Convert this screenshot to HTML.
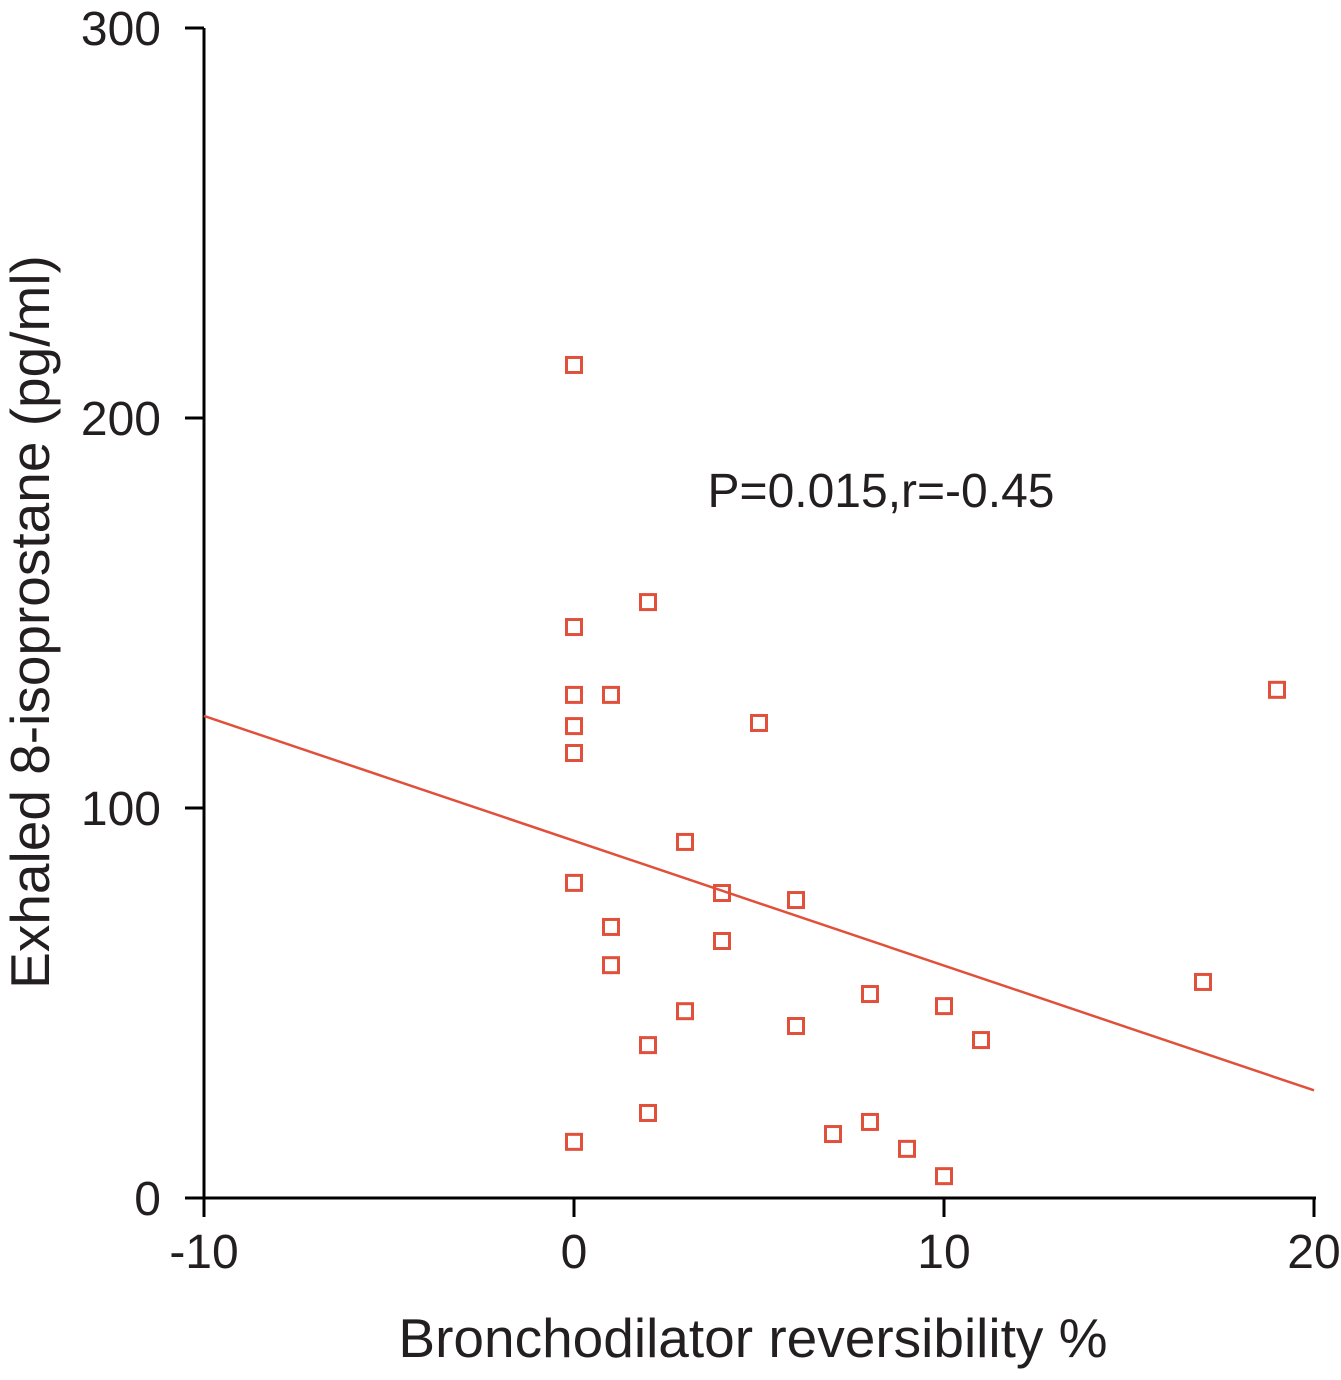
<!DOCTYPE html>
<html><head><meta charset="utf-8"><style>
body{margin:0;background:#fff;}
svg{display:block;font-family:"Liberation Sans",Arial,sans-serif;}
</style></head><body>
<svg id="chart" width="1341" height="1380" viewBox="0 0 1341 1380">
<g id="axes"></g><g id="marks"></g>
<text x="881" y="507" font-size="48" text-anchor="middle" fill="#231f20">P=0.015,r=-0.45</text>
<text x="753" y="1357" font-size="55" text-anchor="middle" fill="#231f20">Bronchodilator reversibility %</text>
<text transform="translate(49,622) rotate(-90)" font-size="55" text-anchor="middle" fill="#231f20">Exhaled 8-isoprostane (pg/ml)</text>
</svg>
<script>
const xTicks=[-10,0,10,20];
const yTicks=[0,100,200,300];
const xVals=[0,0,2,0,1,0,5,0,19,3,0,4,6,1,4,1,8,17,10,3,6,11,2,2,0,7,8,9,10];
const yVals=[213.6,146.4,152.8,129,129,121,121.8,114.1,130.3,91.3,80.8,78.2,76.4,69.5,65.9,59.7,52.3,55.4,49.2,47.9,44.1,40.5,39.2,21.8,14.4,16.4,19.5,12.6,5.6];
const fitLine=[91.6,-3.2]; // intercept, slope
const NS="http://www.w3.org/2000/svg";
const X=v=>204+(v+10)*37;
const Y=v=>1198-v*3.9;
const axes=document.getElementById('axes'),marks=document.getElementById('marks');
function mk(tag,attrs,parent){const e=document.createElementNS(NS,tag);for(const k in attrs)e.setAttribute(k,attrs[k]);parent.appendChild(e);return e;}
let a=mk('line',{x1:204,y1:28,x2:204,y2:1199,stroke:'#000','stroke-width':3},axes);


a=mk('line',{x1:203,y1:1198,x2:1316,y2:1198,stroke:'#000','stroke-width':3},axes);


xTicks.forEach(t=>{
 let l=mk('line',{x1:X(t),y1:1198,x2:X(t),y2:1217,stroke:'#000','stroke-width':3},axes);
 
 
 let tx=mk('text',{x:X(t),y:1268,'font-size':48,'text-anchor':'middle',fill:'#231f20'},axes);
 tx.textContent=t;
 
 
});
yTicks.forEach(t=>{
 let l=mk('line',{x1:185,y1:Y(t),x2:204,y2:Y(t),stroke:'#000','stroke-width':3},axes);
 
 
 let tx=mk('text',{x:161,y:Y(t)+17,'font-size':48,'text-anchor':'end',fill:'#231f20'},axes);
 tx.textContent=t;
 
 
});
let fl=mk('line',{x1:X(-10),y1:Y(fitLine[0]+fitLine[1]*-10),x2:X(20),y2:Y(fitLine[0]+fitLine[1]*20),stroke:'#e0503a','stroke-width':2.5},marks);


xVals.forEach((v,i)=>{
 let r=mk('rect',{x:X(v)-7.5,y:Y(yVals[i])-7.5,width:15,height:15,fill:'none',stroke:'#e0503a','stroke-width':3},marks);
 
 
});
</script>
</body></html>
